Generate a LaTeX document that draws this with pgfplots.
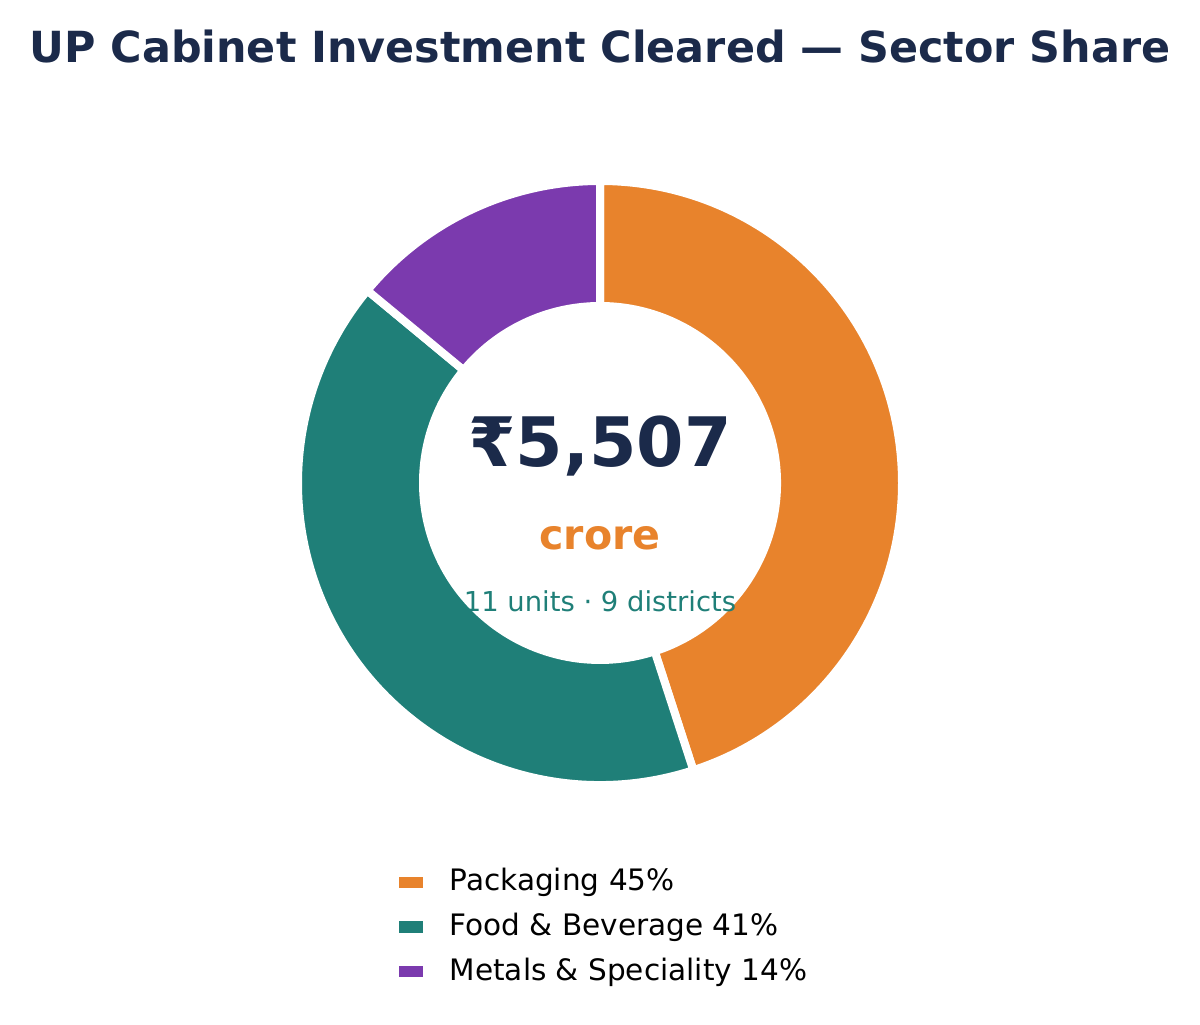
\documentclass[border=0pt]{standalone}
\usepackage{fontspec}
\setmainfont{DejaVu Sans}
\usepackage{pgfplots}
\usepackage{pgfplotstable}
\pgfplotsset{compat=1.18}

\definecolor{navy}{HTML}{1B2A4A}
\definecolor{pkg}{HTML}{E8832C}
\definecolor{food}{HTML}{1F7F78}
\definecolor{metal}{HTML}{7B3AAE}

% sector shares in percent (total 5,507 crore)
\pgfplotstableread[col sep=comma]{
sector,share
Packaging,45
Food and Beverage,41
Metals and Speciality,14
}\sectors

% donut slice: colour, start angle, end angle (axis units = pixels)
\newcommand{\slice}[3]{%
  \fill[#1, draw=white, line width=0.08cm]
    (axis cs:{600+302*cos(#2)},{542+302*sin(#2)})
    arc[start angle=#2, end angle=#3, radius=3.02cm]
    -- (axis cs:{600+177*cos(#3)},{542+177*sin(#3)})
    arc[start angle=#3, end angle=#2, radius=1.77cm] -- cycle;
}

\begin{document}
\begin{tikzpicture}
\pgfplotstablegetelem{0}{share}\of\sectors \let\sA\pgfplotsretval
\pgfplotstablegetelem{1}{share}\of\sectors \let\sB\pgfplotsretval
\pgfplotstablegetelem{2}{share}\of\sectors \let\sC\pgfplotsretval
\pgfmathsetmacro\aA{90}
\pgfmathsetmacro\aB{\aA-3.6*\sA}
\pgfmathsetmacro\aC{\aB-3.6*\sB}
\pgfmathsetmacro\aD{\aC-3.6*\sC}
\path[use as bounding box] (0,0) rectangle (12cm,10.25cm);
\begin{axis}[
    at={(0,0)}, anchor=south west,
    scale only axis,
    width=12cm, height=10.25cm,
    xmin=0, xmax=1200, ymin=0, ymax=1025,
    hide axis,
    clip=false,
    legend cell align=left,
    legend image code/.code={\fill[#1, draw=none] (0cm,-0.057cm) rectangle (0.24cm,0.057cm);},
    legend style={draw=none, fill=none, at={(axis cs:398,98)}, anchor=west,
        inner sep=0pt, font=\fontsize{8.4}{10}\selectfont, row sep=0.03cm,
        /tikz/every odd column/.append style={column sep=0.2cm}},
]
\slice{pkg}{\aA}{\aB}
\slice{food}{\aB}{\aC}
\slice{metal}{\aC}{\aD}

\addlegendimage{fill=pkg}
\addlegendentry{Packaging \sA\%}
\addlegendimage{fill=food}
\addlegendentry{Food \& Beverage \sB\%}
\addlegendimage{fill=metal}
\addlegendentry{Metals \& Speciality \sC\%}

\node[anchor=base, text=navy, font=\fontsize{12.2}{15}\selectfont\bfseries]
    at (axis cs:600,962) {UP Cabinet Investment Cleared — Sector Share};
\node[anchor=base, text=navy, font=\fontsize{19.4}{24}\selectfont\bfseries]
    at (axis cs:600,558) {₹5,507};
\node[anchor=base, text=pkg, font=\fontsize{11.7}{14}\selectfont\bfseries]
    at (axis cs:600,475) {crore};
\node[anchor=base, text=food, font=\fontsize{7.8}{9}\selectfont]
    at (axis cs:600,413) {11 units · 9 districts};
\end{axis}
\end{tikzpicture}
\end{document}
